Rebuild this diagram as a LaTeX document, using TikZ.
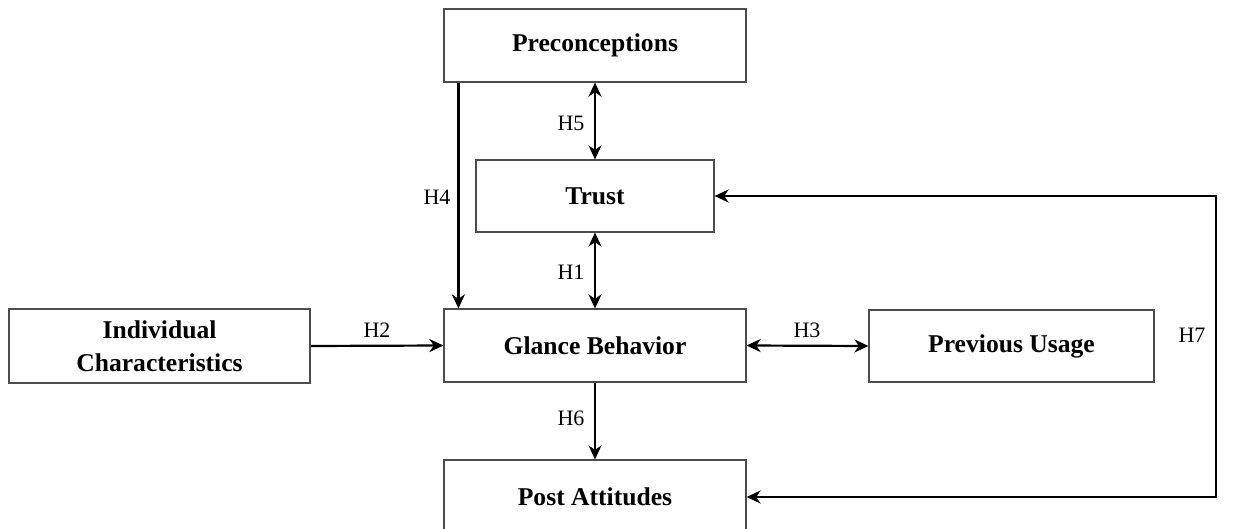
\documentclass[tikz,border=0pt]{standalone}
\usepackage{fontspec}
\setmainfont{Liberation Serif}
\usetikzlibrary{arrows.meta}
\begin{document}
\begin{tikzpicture}[x=0.5pt,y=-0.5pt,
  box/.style={draw=black!70, line width=0.6pt, inner sep=0pt, align=center,
    font=\fontsize{12.8}{16.5}\selectfont\bfseries},
  conn/.style={line width=1.1pt, draw=black, arrows={-Stealth[length=7pt,width=6.5pt,inset=2.2pt]}},
  dconn/.style={line width=1.1pt, draw=black, arrows={Stealth[length=7pt,width=6.5pt,inset=2.2pt]-Stealth[length=7pt,width=6.5pt,inset=2.2pt]}},
  lbl/.style={font=\fontsize{11}{13}\selectfont, inner sep=0pt}]
\useasboundingbox (0,0) rectangle (1253,529);
\clip (0,0) rectangle (1253,529);
\node[box, minimum width=151pt, minimum height=36.5pt] (pre) at (595,45.5) {Preconceptions};
\node[box, minimum width=119pt, minimum height=36pt] (trust) at (595,196) {Trust};
\node[box, minimum width=151pt, minimum height=36.5pt] (glance) at (595,345.5) {Glance Behavior};
\node[box, minimum width=150.5pt, minimum height=37pt] (indiv) at (159.5,346) {Individual\\Characteristics};
\node[box, minimum width=142.5pt, minimum height=36pt] (prev) at (1011.5,346) {Previous Usage};
\node[box, minimum width=151pt, minimum height=37pt] (post) at (595,497) {Post Attitudes};
\coordinate (h7) at (1216,346);

\draw[dconn] (pre.south) -- (trust.north);
\draw[dconn] (trust.south) -- (glance.north);
\draw[conn] ([xshift=7.5pt]pre.south west) -- ([xshift=7.5pt]glance.north west);
\draw[conn] (indiv.east) -- (glance.west);
\draw[dconn] (glance.east) -- (prev.west);
\draw[conn] (glance.south) -- (post.north);
\draw[dconn] (trust.east) -| (h7) |- (post.east);

\node[lbl] (l5) at (571,123) {H5};
\node[lbl] (l1) at (571,272) {H1};
\node[lbl] (l6) at (571,418) {H6};
\node[lbl] (l4) at (437,197) {H4};
\node[lbl] (l2) at (377,330) {H2};
\node[lbl] (l3) at (807,330) {H3};
\node[lbl] (l7) at (1192,335) {H7};
\end{tikzpicture}
\end{document}
